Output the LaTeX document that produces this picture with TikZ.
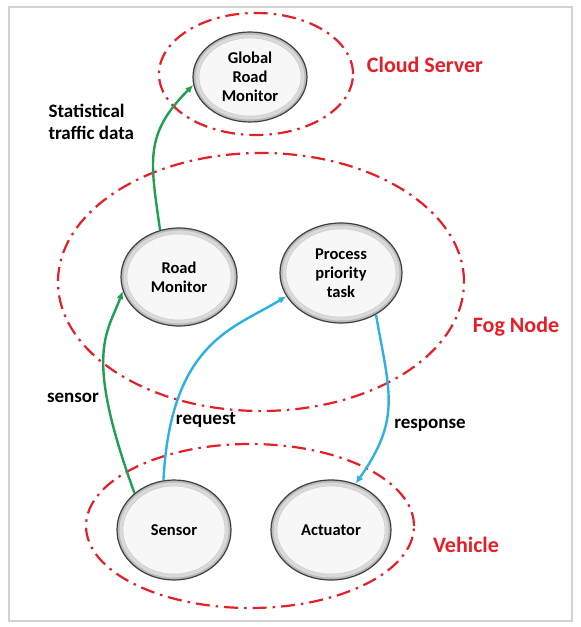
\documentclass[tikz,border=0pt]{standalone}
\usepackage{fontspec}
\setmainfont{Carlito}
\usetikzlibrary{
  positioning,
  calc,
  shapes.geometric,
  arrows.meta
}
\definecolor{zonered}{RGB}{230,30,40}
\definecolor{flowgreen}{RGB}{30,160,80}
\definecolor{flowblue}{RGB}{45,176,228}
\tikzset{unit/.style={
  ellipse,
  draw=black!75, line width=1.2pt,
  fill=gray!55,
  path picture={
    \fill [gray!30] let \p1=(path picture bounding box.north east), \p2=(path picture bounding box.center)
      in (\p2) ellipse [x radius=\x1-\x2-2.5pt, y radius=\y1-\y2-2.5pt];
    \filldraw [fill=gray!6,draw=gray!40,line width=0.5pt] let \p1=(path picture bounding box.north east), \p2=(path picture bounding box.center)
      in (\p2) ellipse [x radius=\x1-\x2-6pt, y radius=\y1-\y2-6pt];
  },
  inner sep=0pt, align=center,
  minimum width=116pt, minimum height=98pt,
  font=\fontsize{16.5}{19}\selectfont\bfseries
}}
\tikzset{zone/.style={draw=zonered, line width=2.2pt, dash pattern=on 14pt off 6pt on 2.5pt off 6pt}}
\tikzset{zonelbl/.style={text=zonered, font=\fontsize{22}{26}\selectfont\bfseries}}
\tikzset{lbl/.style={align=left, font=\fontsize{19}{22}\selectfont\bfseries}}
\tikzset{flow/.style={line width=2.4pt, -{Latex[length=8pt,width=7pt]}}}

\begin{document}
\begin{tikzpicture}[x=1pt,y=1pt]
    \useasboundingbox (0,0) rectangle (581,627);
    \draw [gray!35,line width=2pt] (9,6) rectangle (572,620);
    % zones
    \draw [zone] (256,553) ellipse [x radius=97, y radius=61];
    \draw [zone] (261,345) ellipse [x radius=203, y radius=129];
    \draw [zone] (250,101) ellipse [x radius=164, y radius=82];
    \node (cloudlbl) [zonelbl] at (425,562) {Cloud Server};
    \node (foglbl) [zonelbl] at (516,300) {Fog Node};
    \node (vehlbl) [zonelbl] at (466,82) {Vehicle};
    % units
    \node (global) [unit,minimum width=114pt,minimum height=90pt] at (250,550) {Global\\Road\\Monitor};
    \node (road) [unit] at (179,350) {Road\\Monitor};
    \node (task) [unit,minimum width=122pt,minimum height=100pt] at (341,354) {Process\\priority\\task};
    \node (sensor) [unit,minimum width=114pt,minimum height=100pt] at (174,97) {Sensor};
    \node (actuator) [unit,minimum width=120pt,minimum height=100pt] at (331,97) {Actuator};
    % flows
    \draw [flow,flowgreen] (road.112) to[out=98,in=225,looseness=1.2] (global.188);
    \draw [flow,flowgreen] (sensor.137) .. controls +(110:150) and +(250:45) .. (road.194);
    \draw [flow,flowblue] (sensor.102) .. controls +(87:140) and +(212:60) .. (task.203);
    \draw [flow,flowblue] (task.-50) to[out=-80,in=55,looseness=1.2] (actuator.62);
    \node (statlbl) [lbl,anchor=west] at (45,505) {Statistical\\traffic data};
    \node (sensorlbl) [lbl] at (73,229) {sensor};
    \node (reqlbl) [lbl] at (206,207) {request};
    \node (resplbl) [lbl] at (430,202) {response};
\end{tikzpicture}
\end{document}
